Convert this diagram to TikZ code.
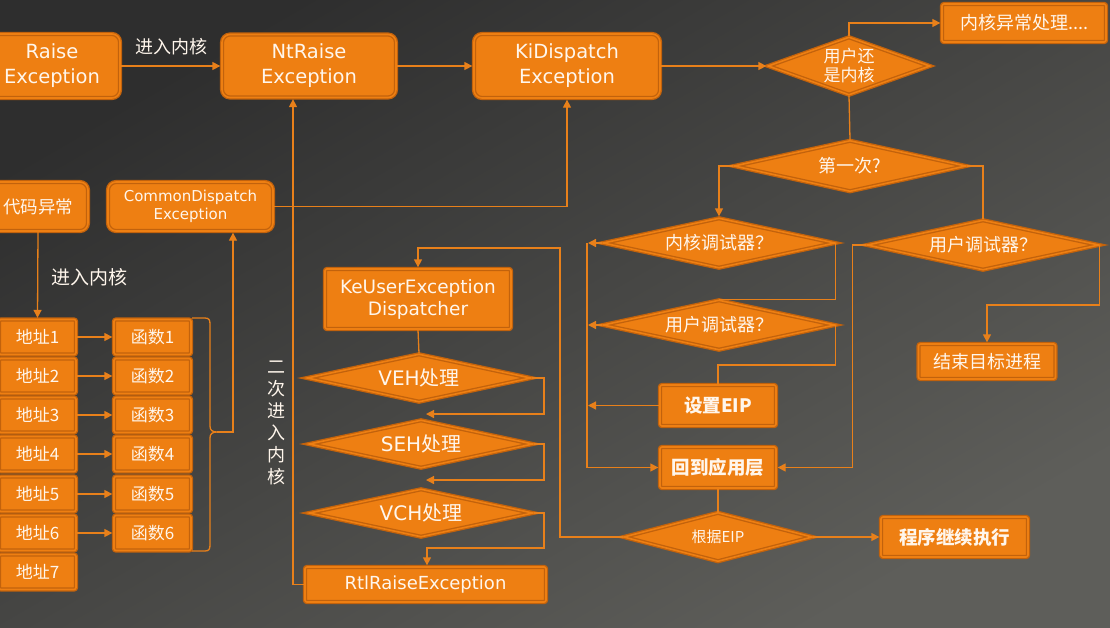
\documentclass[tikz,border=0pt]{standalone}
\usepackage{fontspec}
\setmainfont{DejaVu Sans}
\newfontfamily\cjk{Noto Sans CJK SC}
\usetikzlibrary{shapes.geometric,arrows.meta}
\definecolor{fillc}{HTML}{EE7F12}
\definecolor{bordc}{HTML}{C2620C}
\definecolor{linec}{HTML}{E8801A}
\definecolor{txtc}{HTML}{FFF6EC}
\definecolor{bgA}{HTML}{2E2E2E}
\definecolor{bgB}{HTML}{5E5E5A}
\begin{document}
\begin{tikzpicture}[x=1pt,y=-1pt,
  base/.style={fill=fillc, draw=bordc, line width=1.3pt, double=fillc, double distance=1.6pt, text=txtc, inner sep=0pt, align=center},
  box/.style={base, rectangle, rounded corners=2pt},
  rbox/.style={base, rectangle, rounded corners=8pt},
  dia/.style={base, diamond, aspect=4.6},
  cell/.style={box, minimum width=77, minimum height=35, font=\fontsize{17}{20}\selectfont\cjk},
  lbl/.style={text=txtc, inner sep=0pt, align=center},
  conn/.style={draw=linec, line width=1.3pt},
  arr/.style={conn, -{Triangle[length=8pt,width=8pt]}, shorten >=1pt},
  fL/.style={font=\fontsize{19.5}{25}\selectfont},
  fC/.style={font=\fontsize{18}{21}\selectfont\cjk},
  fB/.style={font=\fontsize{18.5}{21}\selectfont\bfseries\cjk}
]
\useasboundingbox (0,0) rectangle (1110,627);
\shade[top color=bgA, bottom color=bgB, shading angle=30] (0,0) rectangle (1110,627);
\clip (0,0) rectangle (1110,627);

% top row
\node[rbox, fL, minimum width=136, minimum height=64] (raise) at (52,66) {Raise\\Exception};
\node[rbox, fL, minimum width=174, minimum height=63] (ntraise) at (309,66) {NtRaise\\Exception};
\node[rbox, fL, minimum width=186, minimum height=64] (kidisp) at (567,66) {KiDispatch\\Exception};
\node[dia, aspect=2.9, minimum width=162, minimum height=58, font=\fontsize{17}{19}\selectfont\cjk] (uork) at (849,66) {用户还\\是内核};
\node[box, fC, minimum width=164, minimum height=38] (kexc) at (1024,23) {内核异常处理....};

% decisions right
\node[dia, fC, minimum width=232, minimum height=51] (first) at (850,166) {第一次?};
\node[dia, fC, minimum width=232, minimum height=50] (kdbg) at (719,243) {内核调试器？};
\node[dia, fC, minimum width=232, minimum height=50] (udbgR) at (983,245) {用户调试器？};
\node[dia, fC, minimum width=232, minimum height=50] (udbgL) at (719,325) {用户调试器？};
\node[box, fB, minimum width=116, minimum height=41] (setEIP) at (718,405.5) {设置EIP};
\node[box, fB, minimum width=116, minimum height=41] (back) at (718,467.5) {回到应用层};
\node[box, fC, minimum width=137, minimum height=35] (endproc) at (987,361.5) {结束目标进程};
\node[dia, aspect=3.9, minimum width=189, minimum height=49, font=\fontsize{15}{18}\selectfont\cjk] (eip) at (718,537) {根据EIP};
\node[box, fB, minimum width=147, minimum height=40] (cont) at (954.5,537) {程序继续执行};

% user dispatch column
\node[box, font=\fontsize{18.5}{22}\selectfont, minimum width=186, minimum height=60] (keuser) at (418,299) {KeUserException\\Dispatcher};
\node[dia, font=\fontsize{20}{22}\selectfont, minimum width=224, minimum height=48] (veh) at (419,378) {VEH{\cjk 处理}};
\node[dia, font=\fontsize{20}{22}\selectfont, minimum width=224, minimum height=48] (seh) at (421,444) {SEH{\cjk 处理}};
\node[dia, font=\fontsize{20}{22}\selectfont, minimum width=224, minimum height=48] (vch) at (421,513) {VCH{\cjk 处理}};
\node[box, font=\fontsize{18}{21}\selectfont, minimum width=241, minimum height=35] (rtl) at (425.5,584.5) {RtlRaiseException};

% left part
\node[rbox, font=\fontsize{15}{18}\selectfont, minimum width=165, minimum height=49] (common) at (190.5,206.5) {CommonDispatch\\Exception};
\node[rbox, font=\fontsize{17.5}{20}\selectfont\cjk, minimum width=100, minimum height=49] (code) at (38,206.5) {代码异常};

\foreach \i/\yy in {1/337,2/376,3/415,4/454,5/494,6/533,7/572}{
  \node[cell] (addr\i) at (37.5,\yy) {地址\i};
}
\foreach \i/\yy in {1/337,2/376,3/415,4/454,5/494,6/533}{
  \node[cell] (func\i) at (152.5,\yy) {函数\i};
}

% labels
\node[lbl, font=\fontsize{18}{21}\selectfont\cjk] (l1) at (171,47) {进入内核};
\node[lbl, font=\fontsize{19}{21}\selectfont\cjk] (l2) at (89,277) {进入内核};
\node[lbl, font=\fontsize{18}{22}\selectfont\cjk] (l3) at (276,423) {二\\次\\进\\入\\内\\核};

% connectors top
\draw[arr] (raise.east) -- (ntraise.west);
\draw[arr] (ntraise.east) -- (kidisp.west);
\draw[arr] (kidisp.east) -- (uork.west);
\draw[arr] (uork.north) |- (kexc.west);
\draw[conn] (uork.south) -- (first.north);
\draw[arr] (first.west) -| (kdbg.north);
\draw[conn] (first.east) -| (udbgR.north);
\draw[conn] (kdbg.east) |- (udbgL.north);
\draw[conn] (udbgL.east) -- ++(0,40) -| (setEIP.north);
\coordinate (busx) at (587,0);
\draw[arr] (kdbg.west) -- (kdbg.west -| busx);
\draw[arr] (udbgL.west) -- (udbgL.west -| busx);
\draw[arr] (setEIP.west) -- (setEIP.west -| busx);
\draw[arr] (kdbg.west -| busx) |- (back.west);
\draw[arr] (udbgR.west) -- ++(-14,0) |- (back.east);
\draw[arr] (udbgR.east) -- ++(0,60) -| (endproc.north);
\draw[conn] (back.south) -- (eip.north);
\draw[arr] (eip.east) -- (cont.west);
\coordinate (loop) at (560,248);
\draw[arr] (eip.west) -| (loop) -| (keuser.north);

% user dispatch connectors
\draw[conn] (keuser.south) -- (veh.north);
\coordinate (rx) at (544,0);
\coordinate (sehin) at (425,414);
\coordinate (vchin) at (425,480);
\coordinate (rtlin) at (427,548);
\draw[arr] (veh.east) -| (rx |- sehin) -- (sehin);
\draw[arr] (seh.east) -| (rx |- vchin) -- (vchin);
\draw[arr] (vch.east) -| (rx |- rtlin) -- (rtlin) -- (rtlin |- rtl.north);
\draw[arr] (rtl.west) -| ([xshift=-16pt]ntraise.south);

% left connectors
\draw[arr] (common.east) -| (kidisp.south);
\draw[arr] (code.south) -- (addr1.north);
\foreach \i in {1,...,6}{ \draw[arr] (addr\i.east) -- (func\i.west); }
\draw[conn] (192,318) -- (205,318) .. controls (209,318) and (210,320) .. (210,324) -- (210,426)
  .. controls (210,430) and (212,432) .. (217,432)
  .. controls (212,432) and (210,434) .. (210,438) -- (210,545)
  .. controls (210,549) and (209,551) .. (205,551) -- (192,551);
\coordinate (btip) at (217,432);
\draw[arr] (btip) -| ([xshift=42.5pt]common.south);
\end{tikzpicture}
\end{document}
